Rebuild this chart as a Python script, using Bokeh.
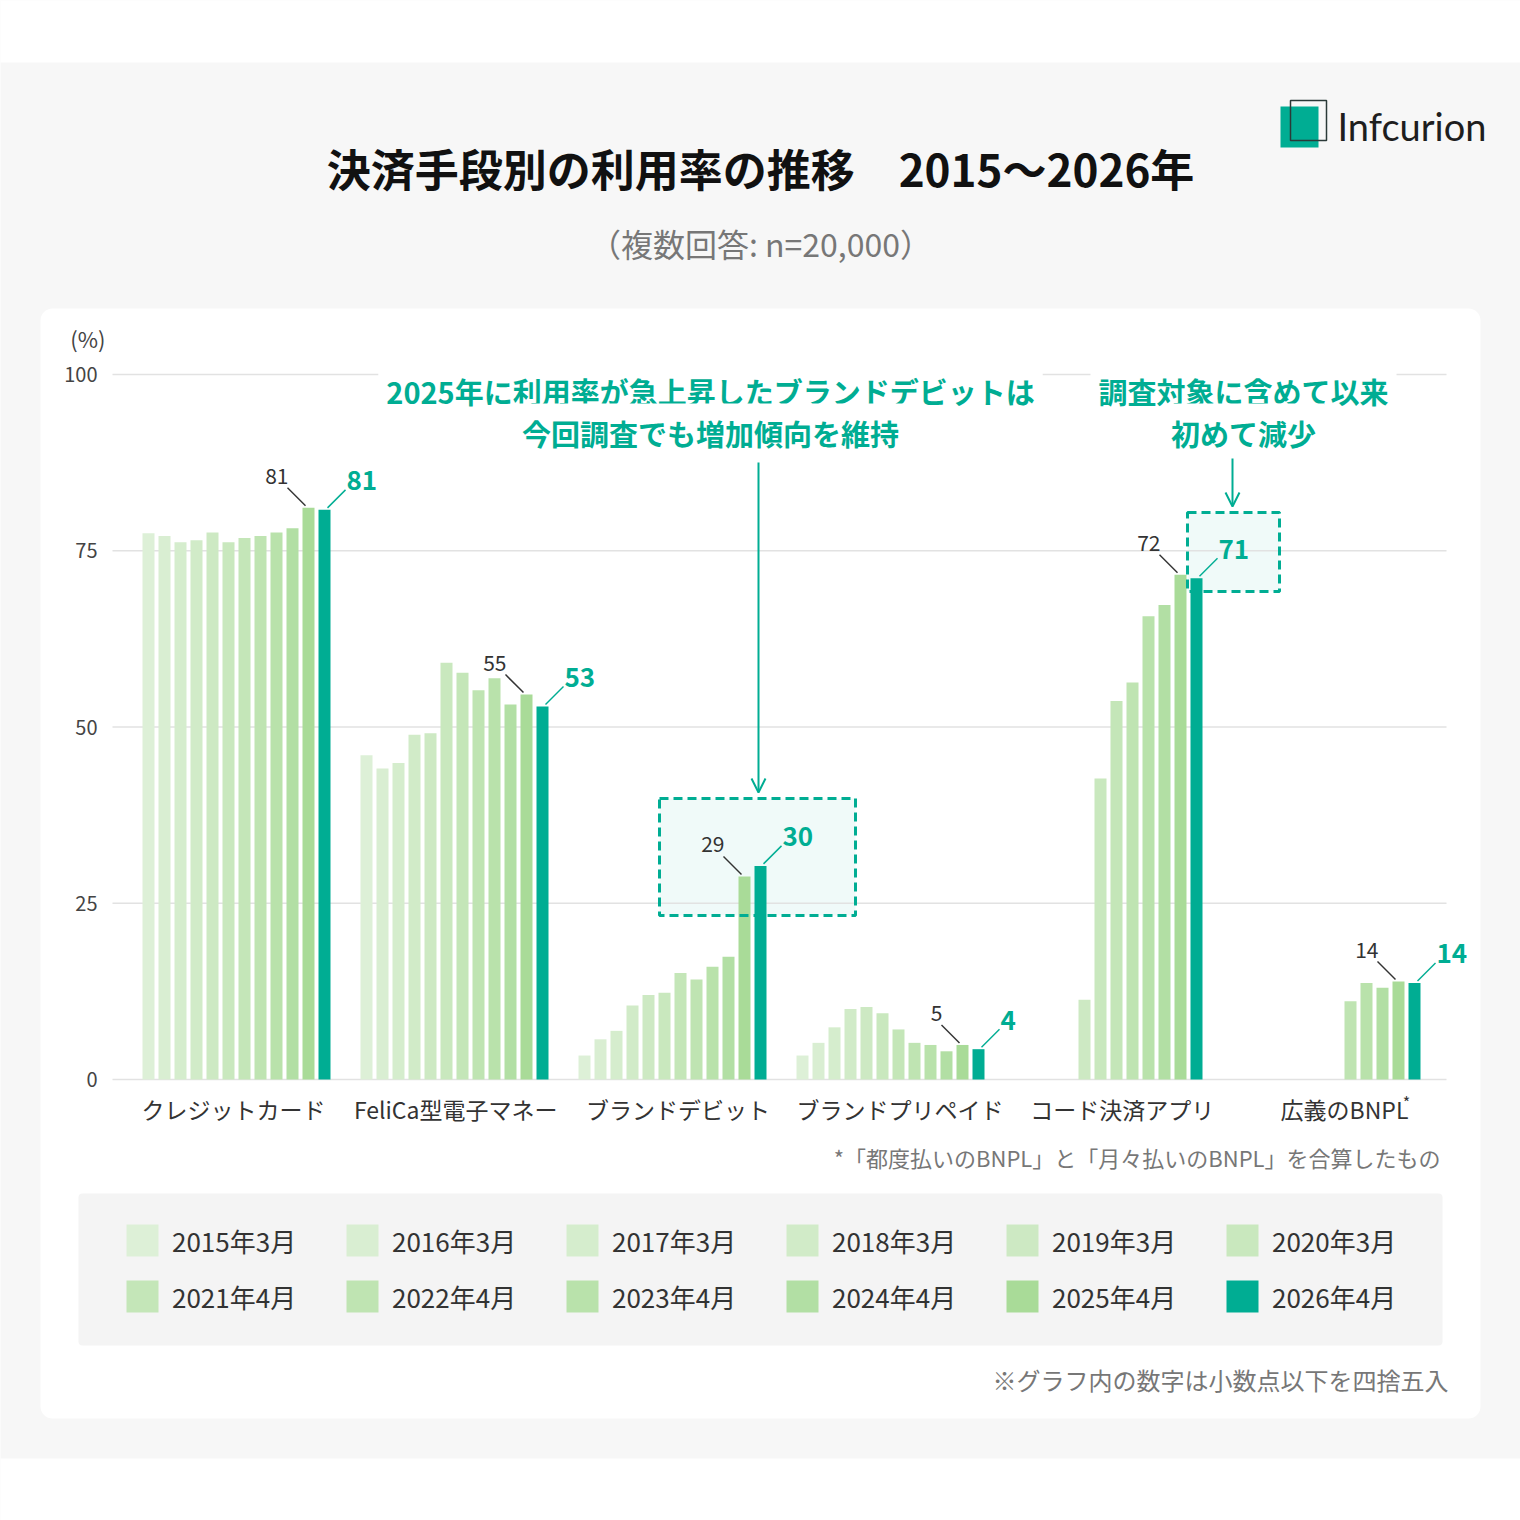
from bokeh.plotting import figure
from bokeh.models import (Range1d, LinearAxis, FixedTicker, BoxAnnotation, Arrow,
                          OpenHead, Legend, LegendItem)
from bokeh.core.properties import value
from bokeh.embed import file_html
from bokeh.resources import INLINE

# ---------------- data ----------------
categories = ["クレジットカード", "FeliCa型電子マネー", "ブランドデビット",
              "ブランドプリペイド", "コード決済アプリ", "広義のBNPL"]
years = ["2015年3月", "2016年3月", "2017年3月", "2018年3月", "2019年3月", "2020年3月",
         "2021年4月", "2022年4月", "2023年4月", "2024年4月", "2025年4月", "2026年4月"]
credit = [77.5, 77.1, 76.2, 76.5, 77.6, 76.2, 76.8, 77.1, 77.6, 78.2, 81.1, 80.8]
felica = [46.0, 44.1, 44.9, 48.9, 49.1, 59.1, 57.7, 55.2, 56.9, 53.2, 54.6, 52.9]
debit = [3.4, 5.7, 6.9, 10.5, 12.0, 12.3, 15.1, 14.2, 16.0, 17.4, 28.8, 30.3]
prepaid = [3.4, 5.2, 7.4, 10.0, 10.3, 9.4, 7.1, 5.2, 4.9, 4.0, 4.9, 4.3]
code = [None, None, None, None, 11.3, 42.7, 53.7, 56.3, 65.7, 67.3, 71.6, 71.1]
bnpl = [None, None, None, None, None, None, None, 11.1, 13.7, 13.0, 13.9, 13.7]
series = [credit, felica, debit, prepaid, code, bnpl]
y_ticks = [0, 25, 50, 75, 100]

title = "決済手段別の利用率の推移　2015〜2026年"
subtitle = "（複数回答: n=20,000）"
note1 = "*「都度払いのBNPL」と「月々払いのBNPL」を合算したもの"
note2 = "※グラフ内の数字は小数点以下を四捨五入"
ann1 = ["2025年に利用率が急上昇したブランドデビットは", "今回調査でも増加傾向を維持"]
ann2 = ["調査対象に含めて以来", "初めて減少"]

# ---------------- styles ----------------
FONT = "Noto Sans CJK JP"
TEAL = "#00ad93"
colors = ["#ddf0d7", "#d9eed2", "#d5edcd", "#d1ebc8", "#cde9c3", "#c9e8be",
          "#c4e6b8", "#bfe4b2", "#b9e2ab", "#b2dfa4", "#a9db98", TEAL]

W = H = 1520
UX = 222.2   # px per x unit
UY = 7.05    # px per percentage point
X0 = -233 / UX
Y1 = 1079 / UY


def px2x(px):
    return X0 + px / UX


def py2y(py):
    return Y1 - py / UY


p = figure(width=W, height=H, x_range=Range1d(X0, X0 + W / UX),
           y_range=Range1d(Y1 - H / UY, Y1), min_border=0,
           x_axis_location=None, y_axis_location=None, toolbar_location=None,
           output_backend="svg", background_fill_color="#f7f7f7",
           border_fill_color="#f7f7f7", outline_line_color=None)
p.grid.visible = False


def box(l, r, t, b, level="underlay", **kw):
    bx = BoxAnnotation(left=px2x(l), right=px2x(r), top=py2y(t), bottom=py2y(b),
                       level=level, **kw)
    p.add_layout(bx)
    return bx


def txt(px, py, s, size, color, align="center", baseline="middle", bold=False,
        font=FONT, **kw):
    return p.text(x=[px2x(px)], y=[py2y(py)], text=[s], text_font=value(font),
                  text_font_size=f"{size}px", text_color=color, text_align=align,
                  text_baseline=baseline,
                  text_font_style="bold" if bold else "normal", **kw)


# backgrounds
box(-10, 1530, -10, 62, fill_color="white", fill_alpha=1, line_color=None)
box(-10, 1530, 1458, 1530, fill_color="white", fill_alpha=1, line_color=None)
box(40, 1480, 308, 1418, fill_color="white", fill_alpha=1, line_color=None,
    border_radius=12)
box(78, 1442, 1193, 1345, fill_color="#f4f4f4", fill_alpha=1, line_color=None,
    border_radius=4)
box(659, 855, 798, 915, fill_color=TEAL, fill_alpha=0.06, line_color=None)
box(1187, 1279, 512, 591, fill_color=TEAL, fill_alpha=0.06, line_color=None)

# grid lines
p.segment(x0=[px2x(112)] * len(y_ticks), x1=[px2x(1446)] * len(y_ticks),
          y0=y_ticks, y1=y_ticks, line_color="#e2e2e2", line_width=1.5)

# bars
renderers = []
for i, yr in enumerate(years):
    xs, tops = [], []
    for g, s in enumerate(series):
        if s[i] is not None:
            xs.append(px2x(148 + 218 * g + 16 * i))
            tops.append(s[i])
    r = p.vbar(x=xs, top=tops, bottom=0, width=12 / UX, fill_color=colors[i],
               line_color=None)
    renderers.append(r)

# value labels for 2025 (gray) and 2026 (teal)
for g, s in enumerate(series):
    xb = 148 + 218 * g + 16 * 10
    tp = 1079 - s[10] * UY
    txt(xb - 20, tp - 32, str(round(s[10])), 21, "#333333", align="right")
    p.segment(x0=[px2x(xb - 21)], y0=[py2y(tp - 20)], x1=[px2x(xb - 3)],
              y1=[py2y(tp - 2)], line_color="#333333", line_width=1.5)
    xb2 = xb + 16
    tp2 = 1079 - s[11] * UY
    txt(xb2 + 22, tp2 - 29, str(round(s[11])), 26, TEAL, bold=True, align="left")
    p.segment(x0=[px2x(xb2 + 3)], y0=[py2y(tp2 - 2)], x1=[px2x(xb2 + 21)],
              y1=[py2y(tp2 - 20)], line_color=TEAL, line_width=1.5)

# dashed highlight boxes
box(659, 855, 798, 915, level="annotation", fill_alpha=0, line_color=TEAL,
    line_alpha=1, line_width=3, line_dash="9 5")
box(1187, 1279, 512, 591, level="annotation", fill_alpha=0, line_color=TEAL,
    line_alpha=1, line_width=3, line_dash="9 5")

# annotation texts and arrows
for k, line in enumerate(ann1):
    txt(710, 390 + 42 * k, line, 29, TEAL, bold=True,
        background_fill_color="white", padding=8)
for k, line in enumerate(ann2):
    txt(1243, 390 + 42 * k, line, 29, TEAL, bold=True,
        background_fill_color="white", padding=8)
p.add_layout(Arrow(end=OpenHead(size=14, line_color=TEAL, line_width=2),
                   x_start=px2x(758), y_start=py2y(462), x_end=px2x(758),
                   y_end=py2y(792), line_color=TEAL, line_width=2))
p.add_layout(Arrow(end=OpenHead(size=14, line_color=TEAL, line_width=2),
                   x_start=px2x(1232), y_start=py2y(458), x_end=px2x(1232),
                   y_end=py2y(506), line_color=TEAL, line_width=2))

# axes
yaxis = LinearAxis(fixed_location=px2x(112), ticker=FixedTicker(ticks=y_ticks),
                   axis_line_color=None, major_tick_line_color=None,
                   minor_tick_line_color=None, major_label_standoff=9,
                   major_label_text_font=FONT, major_label_text_font_size="20px",
                   major_label_text_color="#444444")
p.add_layout(yaxis, "left")
xaxis = LinearAxis(fixed_location=0, ticker=FixedTicker(ticks=list(range(len(categories)))),
                   major_label_overrides={i: c for i, c in enumerate(categories)},
                   axis_line_color=None, major_tick_line_color=None,
                   minor_tick_line_color=None, major_label_standoff=6,
                   major_label_text_font=FONT, major_label_text_font_size="23px",
                   major_label_text_color="#333333")
p.add_layout(xaxis, "below")
txt(1406, 1101, "*", 16, "#333333")
txt(105, 337, "(%)", 22, "#444444", align="right")

# titles
txt(760, 167, title, 44, "#111111", bold=True)
txt(760, 242, subtitle, 32, "#777777")

# logo
p.quad(left=[px2x(1280)], right=[px2x(1318)], top=[py2y(106)], bottom=[py2y(147)],
       fill_color=TEAL, line_color=None)
p.quad(left=[px2x(1290)], right=[px2x(1326)], top=[py2y(100)], bottom=[py2y(140)],
       fill_alpha=0, line_color="#2b3a38", line_width=1.5)
txt(1337, 125, "Infcurion", 38, "#1e1e1e", align="left", font="Lato")

# notes
txt(1440, 1156, note1, 22, "#777777", align="right")
txt(1448, 1379, note2, 24, "#777777", align="right")

# legend (items ordered so the column-major fill reads row by row)
order = [k for c in range(6) for k in (c, c + 6)]
legend = Legend(items=[LegendItem(label=years[k], renderers=[renderers[k]]) for k in order],
                ncols=6, location=(122, 204), glyph_width=40, glyph_height=40,
                label_standoff=10, spacing=16, padding=0, margin=0, label_width=154,
                label_height=40, label_text_font=FONT, label_text_font_size="26px",
                label_text_color="#333333", background_fill_alpha=0,
                border_line_color=None, label_text_baseline="middle")
p.add_layout(legend)

open("out.html", "w").write(file_html(p, INLINE))
